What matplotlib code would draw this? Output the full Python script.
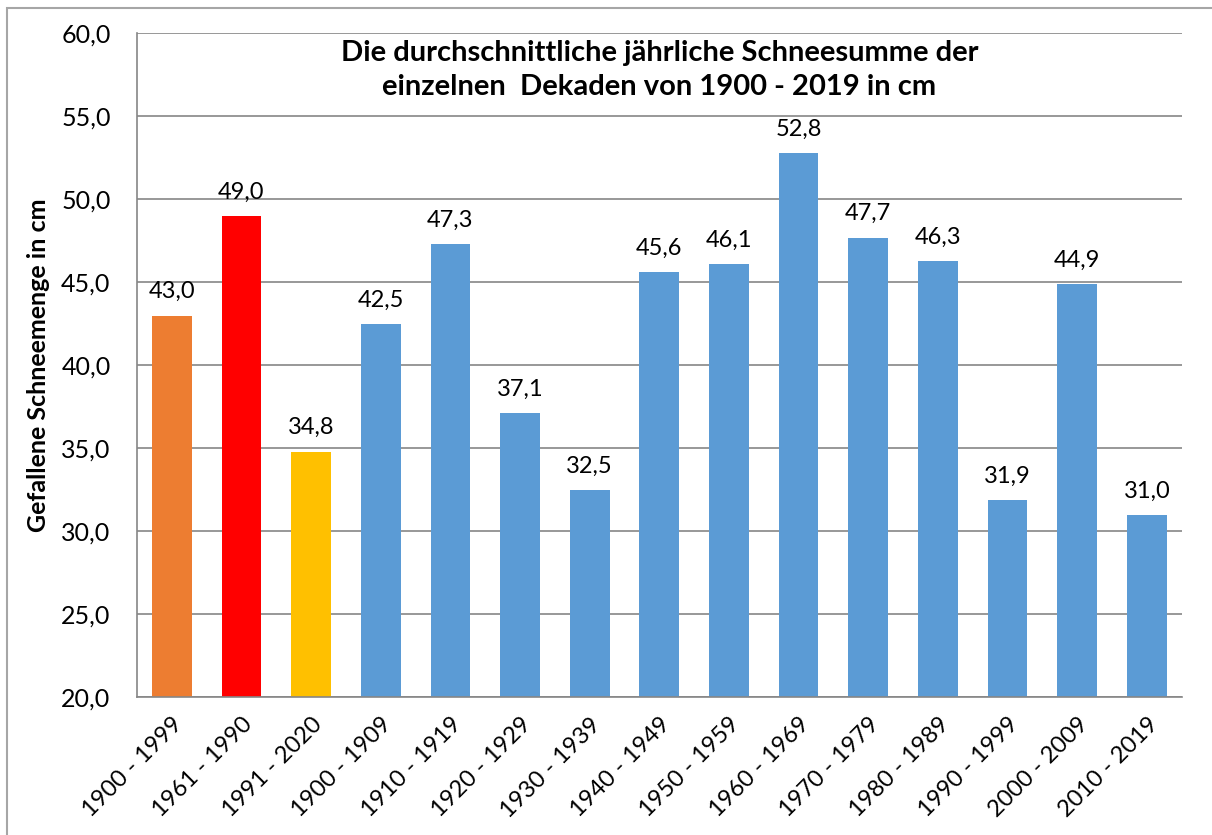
import matplotlib.pyplot as plt
from matplotlib.patches import Rectangle

# Daten
labels = ['1900 - 1999', '1961 - 1990', '1991 - 2020', '1900 - 1909', '1910 - 1919',
          '1920 - 1929', '1930 - 1939', '1940 - 1949', '1950 - 1959', '1960 - 1969',
          '1970 - 1979', '1980 - 1989', '1990 - 1999', '2000 - 2009', '2010 - 2019']
values = [43.0, 49.0, 34.8, 42.5, 47.3, 37.1, 32.5, 45.6, 46.1, 52.8,
          47.7, 46.3, 31.9, 44.9, 31.0]
colors = ['#ED7D31', '#FF0000', '#FFC000'] + ['#5B9BD5'] * 12

plt.rcParams['font.family'] = ['Lato', 'DejaVu Sans']

fig = plt.figure(figsize=(12.12, 8.35), dpi=100)
ax = fig.add_axes([0.113, 0.165, 0.862, 0.795])

x = range(len(values))
bars = ax.bar(x, values, width=0.57, color=colors, zorder=2)
for b, v in zip(bars, values):
    ax.text(b.get_x() + b.get_width() / 2, v + 0.8, f'{v:.1f}'.replace('.', ','),
            ha='center', va='bottom', fontsize=17)

ax.set_xlim(-0.5, len(values) - 0.5)
ax.set_ylim(20, 60)
ax.set_yticks(range(20, 61, 5))
ax.set_yticklabels([f'{t:.1f}'.replace('.', ',') for t in range(20, 61, 5)], fontsize=18)
ax.set_xticks(list(x))
ax.set_xticklabels(labels, rotation=45, ha='right', rotation_mode='anchor', fontsize=17)
ax.tick_params(axis='y', length=0, pad=19)
ax.tick_params(axis='x', length=0, pad=12)

ax.yaxis.grid(True, color='#868686', linewidth=1.2, zorder=0)
ax.set_axisbelow(True)
for s in ['top', 'right']:
    ax.spines[s].set_visible(False)
for s in ['left', 'bottom']:
    ax.spines[s].set_color('#868686')
    ax.spines[s].set_linewidth(1.2)

ax.set_ylabel('Gefallene Schneemenge in cm', fontsize=18, fontweight='bold', labelpad=8)

ax.text(0.5, 0.99, 'Die durchschnittliche jährliche Schneesumme der\neinzelnen  Dekaden von 1900 - 2019 in cm',
        transform=ax.transAxes, ha='center', va='top', fontsize=21, fontweight='bold',
        linespacing=1.4)

# Rahmen
fig.patches.append(Rectangle((7 / 1212, -0.01), 1.02, (835 - 8) / 835 + 0.01,
                             transform=fig.transFigure, fill=False,
                             edgecolor='#A6A6A6', linewidth=1.5))

fig.savefig('out.png', dpi=100)
